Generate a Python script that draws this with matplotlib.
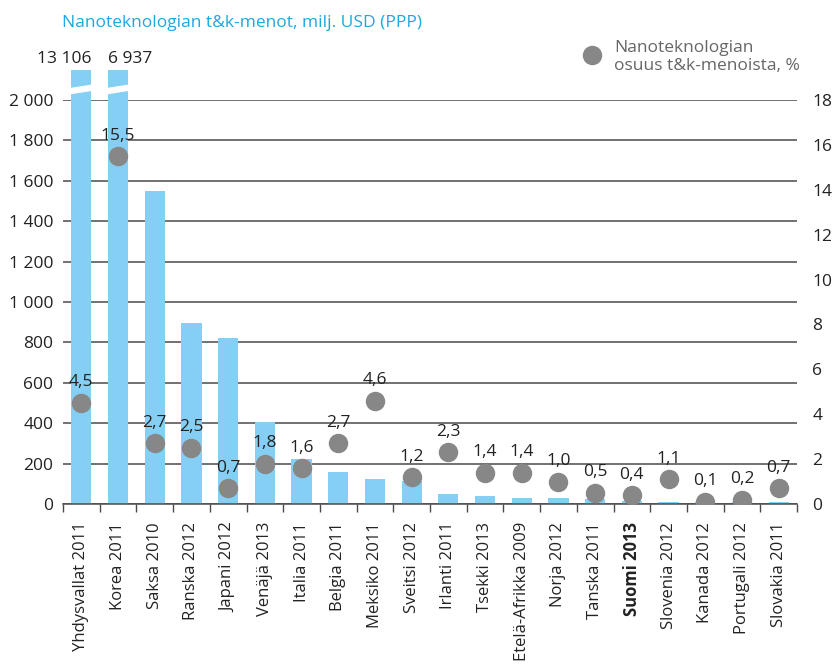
import matplotlib.pyplot as plt
from matplotlib.lines import Line2D
from matplotlib.patches import Polygon
import numpy as np

plt.rcParams['font.family'] = ['Open Sans', 'DejaVu Sans']

countries = ['Yhdysvallat 2011', 'Korea 2011', 'Saksa 2010', 'Ranska 2012', 'Japani 2012',
             'Venäjä 2013', 'Italia 2011', 'Belgia 2011', 'Meksiko 2011', 'Sveitsi 2012',
             'Irlanti 2011', 'Tsekki 2013', 'Etelä-Afrikka 2009', 'Norja 2012', 'Tanska 2011',
             'Suomi 2013', 'Slovenia 2012', 'Kanada 2012', 'Portugali 2012', 'Slovakia 2011']
spend = [13106, 6937, 1550, 898, 823, 406, 225, 158, 124, 114,
         50, 40, 30, 30, 25, 15, 10, 8, 10, 10]
share = [4.5, 15.5, 2.7, 2.5, 0.7, 1.8, 1.6, 2.7, 4.6, 1.2,
         2.3, 1.4, 1.4, 1.0, 0.5, 0.4, 1.1, 0.1, 0.2, 0.7]

bar_color = '#86cff4'
dot_color = '#878787'
grid_color = '#4a4a4a'
text_color = '#222222'
fs = 12.5
cap = 2150  # broken bars are cut here

fig = plt.figure(figsize=(8.39, 6.68), dpi=100)
ax = fig.add_axes([63 / 839, 1 - 504 / 668, 734 / 839, 404 / 668])

x = np.arange(len(countries))
shown = [min(v, cap) for v in spend]
ax.bar(x, shown, width=0.55, color=bar_color, clip_on=False, zorder=2)

# axis break on the two tall bars
for i in (0, 1):
    xl, xr = x[i] - 0.35, x[i] + 0.35
    ax.add_patch(Polygon([(xl, 2030), (xr, 2050), (xr, 2075), (xl, 2055)],
                         closed=True, color='white', clip_on=False, zorder=3))
ax.text(x[0] + 0.275, cap + 15, '13 106', ha='right', va='bottom', fontsize=fs, color=text_color)
ax.text(x[1] - 0.275, cap + 15, '6 937', ha='left', va='bottom', fontsize=fs, color=text_color)

ax.set_xlim(-0.5, len(countries) - 0.5)
ax.set_ylim(0, 2000)
ax.set_yticks(range(0, 2001, 200))
ax.set_yticklabels([f'{v:,}'.replace(',', ' ') for v in range(0, 2001, 200)])
ax.yaxis.grid(True, color=grid_color, linewidth=1.1)
ax.set_axisbelow(True)
ax.tick_params(axis='y', length=0, pad=7, labelsize=fs, labelcolor=text_color)

ax.set_xticks(x)
ax.set_xticklabels(countries, rotation=90, fontsize=12, color=text_color)
ax.tick_params(axis='x', length=0, pad=13)
ax.set_xticks(np.arange(-0.5, len(countries)), minor=True)
ax.tick_params(axis='x', which='minor', length=6, color=grid_color, width=1)
for lbl in ax.get_xticklabels():
    if lbl.get_text().startswith('Suomi'):
        lbl.set_fontweight('bold')

for s in ('top', 'right', 'left'):
    ax.spines[s].set_visible(False)
ax.spines['bottom'].set_color(grid_color)
ax.spines['bottom'].set_linewidth(1.1)

ax2 = ax.twinx()
ax2.set_ylim(0, 18)
ax2.set_yticks(range(0, 19, 2))
ax2.tick_params(axis='y', length=0, pad=11, labelsize=fs, labelcolor=text_color)
for s in ax2.spines.values():
    s.set_visible(False)
ax2.plot(x, share, 'o', color=dot_color, markersize=13, linestyle='none', zorder=4)
for xi, v in zip(x, share):
    ax2.annotate(f'{v:.1f}'.replace('.', ','), (xi, v), xytext=(0, 9), textcoords='offset points',
                 ha='center', va='bottom', fontsize=fs, color=text_color)

fig.text(62 / 839, 1 - 23 / 668, 'Nanoteknologian t&k-menot, milj. USD (PPP)',
         color='#1da7e1', fontsize=fs, va='center', ha='left')
fig.add_artist(Line2D([592 / 839], [1 - 55 / 668], marker='o', color=dot_color,
                      markersize=13, linestyle='none', transform=fig.transFigure))
fig.text(614 / 839, 1 - 57 / 668, 'Nanoteknologian\nosuus t&k-menoista, %',
         color='#666666', fontsize=fs, va='center', ha='left', linespacing=1.15)

fig.savefig('out.png', dpi=100)
